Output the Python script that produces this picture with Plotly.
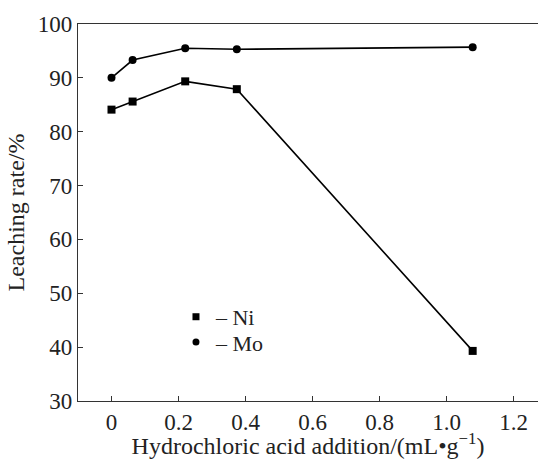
import plotly.graph_objects as go

acid_ml_per_g = [0, 0.063, 0.22, 0.374, 1.078]
ni_leach = [84.1, 85.6, 89.35, 87.9, 39.3]
mo_leach = [90.0, 93.3, 95.5, 95.3, 95.7]
x_ticks = [0, 0.2, 0.4, 0.6, 0.8, 1.0, 1.2]
x_tick_labels = ["0", "0.2", "0.4", "0.6", "0.8", "1.0", "1.2"]
y_ticks = [30, 40, 50, 60, 70, 80, 90, 100]

FONT = "Liberation Serif"
fig = go.Figure()
fig.add_trace(go.Scatter(x=acid_ml_per_g, y=ni_leach, mode="lines+markers",
                         line=dict(color="black", width=1.6),
                         marker=dict(symbol="square", size=8, color="black"),
                         showlegend=False, name="Ni"))
fig.add_trace(go.Scatter(x=acid_ml_per_g, y=mo_leach, mode="lines+markers",
                         line=dict(color="black", width=1.6),
                         marker=dict(symbol="circle", size=8, color="black"),
                         showlegend=False, name="Mo"))
# legend entries (marker then dash then label, as in the reference)
fig.add_trace(go.Scatter(x=[None], y=[None], mode="markers",
                         marker=dict(symbol="square", size=7, color="black"),
                         name="– Ni", legend="legend"))
fig.add_trace(go.Scatter(x=[None], y=[None], mode="markers",
                         marker=dict(symbol="circle", size=7, color="black"),
                         name="– Mo", legend="legend2"))

leg_common = dict(x=0.213, xanchor="left", yanchor="middle",
                  bgcolor="rgba(0,0,0,0)", font=dict(family=FONT, size=22),
                  itemwidth=30)

fig.update_layout(
    width=538, height=459,
    margin=dict(l=78, r=0, t=24, b=58),
    paper_bgcolor="white", plot_bgcolor="white",
    font=dict(family=FONT, size=23, color="#222"),
    legend=dict(y=0.223, **leg_common),
    legend2=dict(y=0.156, **leg_common),
    xaxis=dict(range=[-0.1, 1.273], tickvals=x_ticks, ticktext=x_tick_labels,
               ticks="inside", ticklen=5, tickcolor="#333", showline=True,
               linecolor="#333", linewidth=1.2, mirror=True, showgrid=False,
               zeroline=False, tickfont=dict(family=FONT, size=23),
               title=dict(text="Hydrochloric acid addition/(mL•g<sup>−1</sup>)",
                          standoff=4, font=dict(family=FONT, size=24))),
    yaxis=dict(range=[30, 100], tickvals=y_ticks, ticks="inside", ticklen=5,
               tickcolor="#333", showline=True, linecolor="#333", linewidth=1.2,
               showgrid=False, zeroline=False, tickfont=dict(family=FONT, size=23),
               title=dict(text="Leaching rate/%", standoff=6,
                          font=dict(family=FONT, size=24))),
)
fig.write_html("out.html", config={"displayModeBar": False},
               post_script="document.body.style.margin='0';")
